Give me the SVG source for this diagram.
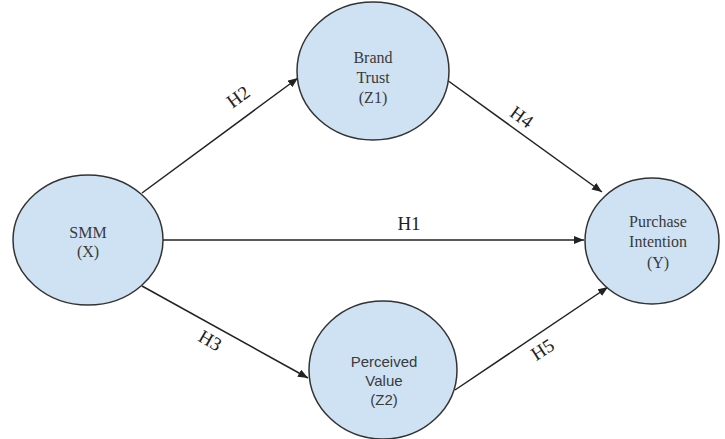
<svg xmlns="http://www.w3.org/2000/svg" width="725" height="439" viewBox="0 0 725 439">
<defs>
<style>
.node{fill:#cfe2f3;stroke:#333;stroke-width:1.5}
.edge{stroke:#222;stroke-width:1.5;fill:none}
.t{font-family:"Liberation Serif","Times New Roman",serif;font-size:16px;fill:#3a3a3a;text-anchor:middle}
.ts{font-family:"Liberation Sans",Arial,sans-serif;font-size:15px;fill:#3a3a3a;text-anchor:middle}
.lab{font-family:"Liberation Serif","Times New Roman",serif;font-size:19px;fill:#222;text-anchor:middle}
</style>
<marker id="arr" markerUnits="userSpaceOnUse" markerWidth="12" markerHeight="10" refX="10" refY="4" orient="auto">
<path d="M0,0 L10,4 L0,8 Z" fill="#222"/>
</marker>
</defs>
<rect width="725" height="439" fill="#fff"/>
<g id="connectors">
<line class="edge" x1="142" y1="193" x2="298" y2="78" marker-end="url(#arr)"/>
<line class="edge" x1="447" y1="80" x2="602" y2="192" marker-end="url(#arr)"/>
<line class="edge" x1="163" y1="240" x2="584" y2="240" marker-end="url(#arr)"/>
<line class="edge" x1="142" y1="286" x2="308" y2="378" marker-end="url(#arr)"/>
<line class="edge" x1="455" y1="390" x2="608" y2="287" marker-end="url(#arr)"/>
<text class="lab" transform="translate(242,102) rotate(-36)">H2</text>
<text class="lab" transform="translate(518,122) rotate(36)">H4</text>
<text class="lab" x="409" y="230">H1</text>
<text class="lab" transform="translate(207,346) rotate(30)">H3</text>
<text class="lab" transform="translate(546,355) rotate(-33)">H5</text>
</g>
<g id="smm">
<ellipse class="node" cx="88" cy="240" rx="75" ry="65"/>
<text class="t" x="88" y="238">SMM</text>
<text class="t" x="88" y="257">(X)</text>
</g>
<g id="brand-trust">
<ellipse class="node" cx="373" cy="71" rx="76" ry="69"/>
<text class="t" x="373" y="63">Brand</text>
<text class="t" x="373" y="83">Trust</text>
<text class="t" x="373" y="103">(Z1)</text>
</g>
<g id="perceived-value">
<ellipse class="node" cx="383" cy="370" rx="74" ry="69"/>
<text class="ts" x="384" y="367">Perceived</text>
<text class="ts" x="384" y="386">Value</text>
<text class="ts" x="384" y="405">(Z2)</text>
</g>
<g id="purchase-intention">
<ellipse class="node" cx="652" cy="241" rx="67" ry="63"/>
<text class="t" x="658" y="227">Purchase</text>
<text class="t" x="658" y="247">Intention</text>
<text class="t" x="658" y="268">(Y)</text>
</g>
</svg>
